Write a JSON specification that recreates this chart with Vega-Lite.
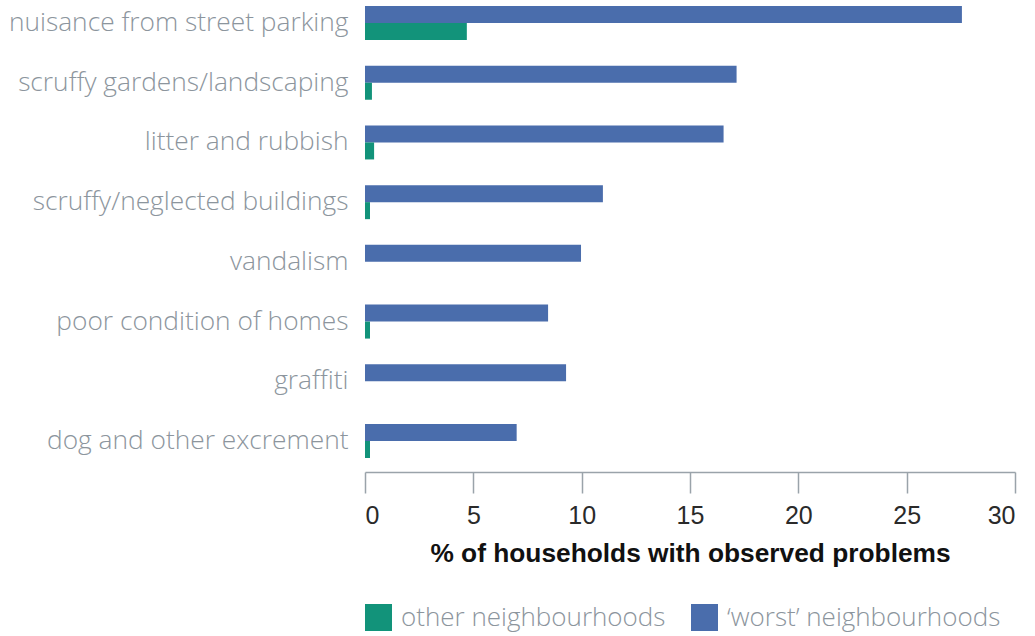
{
  "$schema": "https://vega.github.io/schema/vega-lite/v6.json",
  "autosize": {"type": "none"},
  "padding": {"left": 365, "top": 0, "right": 20, "bottom": 164},
  "width": 650,
  "height": 472,
  "background": "white",
  "config": {"view": {"stroke": null}},
  "data": {"values": [
    {"problem": "nuisance from street parking", "group": "‘worst’ neighbourhoods", "pct": 27.55},
    {"problem": "nuisance from street parking", "group": "other neighbourhoods", "pct": 4.7},
    {"problem": "scruffy gardens/landscaping", "group": "‘worst’ neighbourhoods", "pct": 17.15},
    {"problem": "scruffy gardens/landscaping", "group": "other neighbourhoods", "pct": 0.32},
    {"problem": "litter and rubbish", "group": "‘worst’ neighbourhoods", "pct": 16.55},
    {"problem": "litter and rubbish", "group": "other neighbourhoods", "pct": 0.42},
    {"problem": "scruffy/neglected buildings", "group": "‘worst’ neighbourhoods", "pct": 10.98},
    {"problem": "scruffy/neglected buildings", "group": "other neighbourhoods", "pct": 0.23},
    {"problem": "vandalism", "group": "‘worst’ neighbourhoods", "pct": 9.97},
    {"problem": "vandalism", "group": "other neighbourhoods", "pct": 0},
    {"problem": "poor condition of homes", "group": "‘worst’ neighbourhoods", "pct": 8.45},
    {"problem": "poor condition of homes", "group": "other neighbourhoods", "pct": 0.23},
    {"problem": "graffiti", "group": "‘worst’ neighbourhoods", "pct": 9.28},
    {"problem": "graffiti", "group": "other neighbourhoods", "pct": 0},
    {"problem": "dog and other excrement", "group": "‘worst’ neighbourhoods", "pct": 7.0},
    {"problem": "dog and other excrement", "group": "other neighbourhoods", "pct": 0.23}
  ]},
  "mark": {"type": "bar"},
  "encoding": {
    "y": {
      "field": "problem", "type": "nominal", "sort": null,
      "scale": {"paddingInner": 0.43, "paddingOuter": 0.1675, "align": 0.3},
      "axis": {"title": null, "domain": false, "ticks": false, "labelPadding": 17,
        "labelFont": "Open Sans", "labelFontWeight": 300, "labelFontSize": 26.3, "labelColor": "#8c959d", "labelLimit": 400}
    },
    "yOffset": {
      "field": "group", "type": "nominal",
      "scale": {"domain": ["‘worst’ neighbourhoods", "other neighbourhoods"], "paddingInner": 0, "paddingOuter": 0}
    },
    "x": {
      "field": "pct", "type": "quantitative",
      "scale": {"domain": [0, 30], "nice": false},
      "axis": {"title": "% of households with observed problems", "values": [0, 5, 10, 15, 20, 25, 30],
        "grid": false, "domainColor": "#9aa3aa", "domainWidth": 1.5, "tickColor": "#9aa3aa", "tickWidth": 1.5, "tickSize": 21,
        "labelFont": "Liberation Sans", "labelFontSize": 25, "labelColor": "#2a2a2a", "labelPadding": 10,
        "titleFont": "Liberation Sans", "titleFontWeight": "bold", "titleFontSize": 26.3, "titleColor": "#111111", "titlePadding": 12}
    },
    "color": {
      "field": "group", "type": "nominal",
      "scale": {"domain": ["other neighbourhoods", "‘worst’ neighbourhoods"], "range": ["#12937a", "#4a6dac"]},
      "legend": {"title": null, "orient": "none", "legendX": 0, "legendY": 604, "direction": "horizontal",
        "symbolType": "square", "symbolSize": 729, "symbolStrokeWidth": 0, "symbolOpacity": 1,
        "labelFont": "Open Sans", "labelFontWeight": 300, "labelFontSize": 26, "labelColor": "#8c959d", "labelOffset": 9,
        "columnPadding": 25, "labelLimit": 400}
    }
  }
}
